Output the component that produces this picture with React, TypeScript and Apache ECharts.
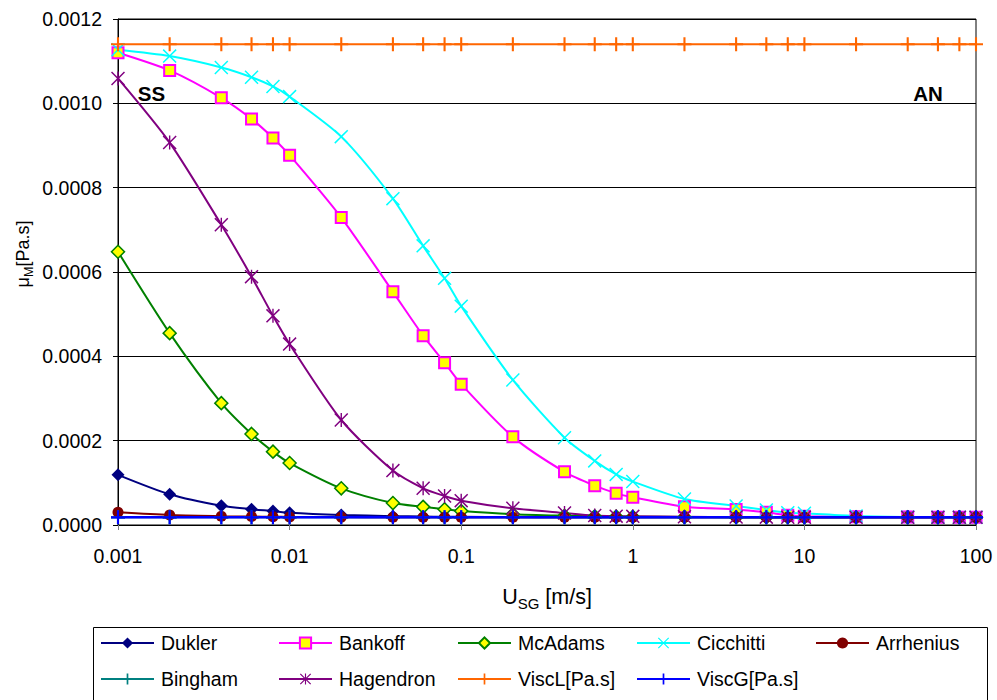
import React, { useEffect, useRef } from "react";
import * as echarts from "echarts";

const FONT = '"Liberation Sans", Arial, Helvetica, sans-serif';

const usg = [0.001, 0.002, 0.004, 0.006, 0.008, 0.01, 0.02, 0.04, 0.06, 0.08, 0.1, 0.2, 0.4, 0.6, 0.8, 1, 2, 4, 6, 8, 10, 20, 40, 60, 80, 100];

const dukler = [0.000119, 0.0000728, 0.0000455, 0.0000375, 0.000033, 0.000029, 0.0000238, 0.000021, 0.0000201, 0.0000196, 0.0000193, 0.0000188, 0.0000185, 0.0000184, 0.0000184, 0.0000183, 0.0000183, 0.0000182, 0.0000182, 0.0000182, 0.0000182, 0.0000182, 0.0000182, 0.0000182, 0.0000182, 0.0000182];
const bankoff = [0.00112, 0.001078, 0.001013, 0.000963, 0.000918, 0.000877, 0.000729, 0.000553, 0.000449, 0.000385, 0.000334, 0.000209, 0.000126, 0.0000932, 0.0000751, 0.0000657, 0.0000434, 0.000037, 0.00003, 0.000023, 0.000021, 0.0000195, 0.0000187, 0.0000185, 0.0000184, 0.0000183];
const mcadams = [0.000648, 0.000455, 0.000289, 0.000216, 0.000174, 0.000147, 0.000087, 0.000052, 0.000043, 0.0000372, 0.0000332, 0.0000256, 0.000022, 0.0000207, 0.00002, 0.0000197, 0.0000189, 0.0000186, 0.0000184, 0.0000183, 0.0000183, 0.0000182, 0.0000182, 0.0000182, 0.0000182, 0.0000182];
const cicchitti = [0.001127, 0.001112, 0.001085, 0.001062, 0.00104, 0.001016, 0.000921, 0.000774, 0.000662, 0.000585, 0.000519, 0.000344, 0.000207, 0.000152, 0.00012, 0.000103, 0.0000617, 0.0000451, 0.0000356, 0.0000292, 0.0000277, 0.0000213, 0.000019, 0.0000186, 0.0000185, 0.0000184];
const arrhenius = [0.00003, 0.0000237, 0.000021, 0.00002, 0.0000195, 0.0000192, 0.0000187, 0.0000185, 0.0000184, 0.0000184, 0.0000183, 0.0000183, 0.0000183, 0.0000182, 0.0000182, 0.0000182, 0.0000182, 0.0000182, 0.0000182, 0.0000182, 0.0000182, 0.0000182, 0.0000182, 0.0000182, 0.0000182, 0.0000182];
const bingham = [0.0000182, 0.0000182, 0.0000182, 0.0000182, 0.0000182, 0.0000182, 0.0000182, 0.0000182, 0.0000182, 0.0000182, 0.0000182, 0.0000182, 0.0000182, 0.0000182, 0.0000182, 0.0000182, 0.0000182, 0.0000182, 0.0000182, 0.0000182, 0.0000182, 0.0000182, 0.0000182, 0.0000182, 0.0000182, 0.0000182];
const hagendron = [0.001059, 0.000907, 0.000712, 0.000589, 0.000496, 0.000429, 0.000249, 0.000129, 0.000087, 0.0000688, 0.0000577, 0.0000396, 0.0000285, 0.0000225, 0.000021, 0.0000205, 0.0000195, 0.0000188, 0.0000186, 0.0000185, 0.0000184, 0.0000183, 0.0000182, 0.0000182, 0.0000182, 0.0000182];
const viscL = [0.00114, 0.00114, 0.00114, 0.00114, 0.00114, 0.00114, 0.00114, 0.00114, 0.00114, 0.00114, 0.00114, 0.00114, 0.00114, 0.00114, 0.00114, 0.00114, 0.00114, 0.00114, 0.00114, 0.00114, 0.00114, 0.00114, 0.00114, 0.00114, 0.00114, 0.00114];
const viscG = [0.0000182, 0.0000182, 0.0000182, 0.0000182, 0.0000182, 0.0000182, 0.0000182, 0.0000182, 0.0000182, 0.0000182, 0.0000182, 0.0000182, 0.0000182, 0.0000182, 0.0000182, 0.0000182, 0.0000182, 0.0000182, 0.0000182, 0.0000182, 0.0000182, 0.0000182, 0.0000182, 0.0000182, 0.0000182, 0.0000182];

const xTickLabels = ["0.001", "0.01", "0.1", "1", "10", "100"];

const PLUS = "path://M8.5,0 h3 v8.5 h8.5 v3 h-8.5 v8.5 h-3 v-8.5 h-8.5 v-3 h8.5 z";
const CROSS = "path://M0,1.5 L1.5,0 L10,8.5 L18.5,0 L20,1.5 L11.5,10 L20,18.5 L18.5,20 L10,11.5 L1.5,20 L0,18.5 L8.5,10 Z";
const STAR = "path://M0,1.5 L1.5,0 L10,8.5 L18.5,0 L20,1.5 L11.5,10 L20,18.5 L18.5,20 L10,11.5 L1.5,20 L0,18.5 L8.5,10 Z M9,0 L11,0 L11,20 L9,20 Z";

type Def = { name: string; values: number[]; color: string; symbol: string; size: number; fill?: string; border?: number; width?: number };

const defs: Def[] = [
  { name: "Dukler", values: dukler, color: "#000080", symbol: "diamond", size: 13 },
  { name: "Bankoff", values: bankoff, color: "#FF00FF", symbol: "rect", size: 11, fill: "#FFFF00", border: 2 },
  { name: "McAdams", values: mcadams, color: "#008000", symbol: "diamond", size: 13, fill: "#FFFF00", border: 1.5 },
  { name: "Cicchitti", values: cicchitti, color: "#00FFFF", symbol: CROSS, size: 14 },
  { name: "Arrhenius", values: arrhenius, color: "#800000", symbol: "circle", size: 11 },
  { name: "Bingham", values: bingham, color: "#008080", symbol: PLUS, size: 14 },
  { name: "Hagendron", values: hagendron, color: "#800080", symbol: STAR, size: 14 },
  { name: "ViscL[Pa.s]", values: viscL, color: "#FF6600", symbol: PLUS, size: 14 },
  { name: "ViscG[Pa.s]", values: viscG, color: "#0000FF", symbol: PLUS, size: 14, width: 2.5 },
];

const legendCols = [100, 278, 457, 636, 815];
const legendRows = [633, 669];

export default function App() {
  const ref = useRef<HTMLDivElement>(null);
  useEffect(() => {
    if (!ref.current) return;
    const chart = echarts.init(ref.current, null, { renderer: "svg" });
    const series = defs.map((d) => ({
      name: d.name,
      type: "line",
      data: usg.map((x, i) => [x, d.values[i]]),
      smooth: 0.25,
      symbol: d.symbol,
      symbolSize: d.size,
      showSymbol: true,
      lineStyle: { color: d.color, width: d.width ?? 2 },
      itemStyle: d.fill
        ? { color: d.fill, borderColor: d.color, borderWidth: d.border }
        : { color: d.color, borderWidth: 0 },
      emphasis: { disabled: true },
      z: 2,
    }));
    const legends = defs.map((d, i) => ({
      data: [d.name],
      left: legendCols[i < 5 ? i : i - 5],
      top: legendRows[i < 5 ? 0 : 1],
      padding: 0,
      itemWidth: 53,
      itemHeight: 14,
      itemGap: 0,
      selectedMode: false,
      textStyle: { fontSize: 19.5, color: "#000", fontFamily: FONT, lineHeight: 20, padding: [0, 0, 0, 2] },
    }));
    chart.setOption({
      animation: false,
      backgroundColor: "#fff",
      textStyle: { fontFamily: FONT },
      grid: { left: 118, right: 21, top: 19, bottom: 175, show: true, borderColor: "#000", borderWidth: 1, backgroundColor: "transparent" },
      xAxis: {
        type: "log",
        logBase: 10,
        min: 0.001,
        max: 100,
        axisLine: { show: true, onZero: false, lineStyle: { color: "#000", width: 1 } },
        axisTick: { show: true, length: 5, lineStyle: { color: "#808080" } },
        minorTick: { show: false },
        splitLine: { show: false },
        axisLabel: {
          fontSize: 19.5,
          color: "#000",
          fontFamily: FONT,
          margin: 21,
          formatter: (v: number) => xTickLabels[Math.round(Math.log10(v)) + 3] ?? "",
        },
      },
      yAxis: {
        type: "value",
        min: 0,
        max: 0.0012,
        interval: 0.0002,
        axisLine: { show: true, lineStyle: { color: "#000", width: 1 } },
        axisTick: { show: true, length: 5, lineStyle: { color: "#000" } },
        splitLine: { show: true, lineStyle: { color: "#000", width: 1 } },
        axisLabel: {
          fontSize: 19.5,
          color: "#000",
          fontFamily: FONT,
          margin: 16,
          formatter: (v: number) => v.toFixed(4),
        },
      },
      legend: legends,
      graphic: [
        {
          type: "rect",
          shape: { x: 93.5, y: 627.5, width: 894, height: 80 },
          style: { fill: "none", stroke: "#000", lineWidth: 1 },
          silent: true,
        },
        {
          type: "text",
          x: 151.5,
          y: 93.5,
          style: { text: "SS", fontSize: 20.5, fontWeight: "bold", fontFamily: FONT, fill: "#000", align: "center", verticalAlign: "middle" },
        },
        {
          type: "text",
          x: 928,
          y: 93.5,
          style: { text: "AN", fontSize: 20.5, fontWeight: "bold", fontFamily: FONT, fill: "#000", align: "center", verticalAlign: "middle" },
        },
        {
          type: "text",
          x: 547,
          y: 597,
          style: {
            text: "{u|U}{s|SG}{u| [m/s]}",
            align: "center",
            verticalAlign: "middle",
            fill: "#000",
            fontFamily: FONT,
            rich: {
              u: { fontSize: 21.5, lineHeight: 28, fontFamily: FONT, fill: "#000" },
              s: { fontSize: 15, lineHeight: 12, verticalAlign: "bottom", fontFamily: FONT, fill: "#000" },
            },
          },
        },
        {
          type: "text",
          x: 23,
          y: 254,
          rotation: Math.PI / 2,
          style: {
            text: "{u|μ}{s|M}{u|[Pa.s]}",
            align: "center",
            verticalAlign: "middle",
            fill: "#000",
            fontFamily: FONT,
            rich: {
              u: { fontSize: 18, lineHeight: 24, fontFamily: FONT, fill: "#000" },
              s: { fontSize: 12.5, lineHeight: 10, verticalAlign: "bottom", fontFamily: FONT, fill: "#000" },
            },
          },
        },
      ],
      series,
    });
    return () => chart.dispose();
  }, []);
  return <div ref={ref} style={{ position: "fixed", left: 0, top: 0, width: 997, height: 700 }} />;
}
